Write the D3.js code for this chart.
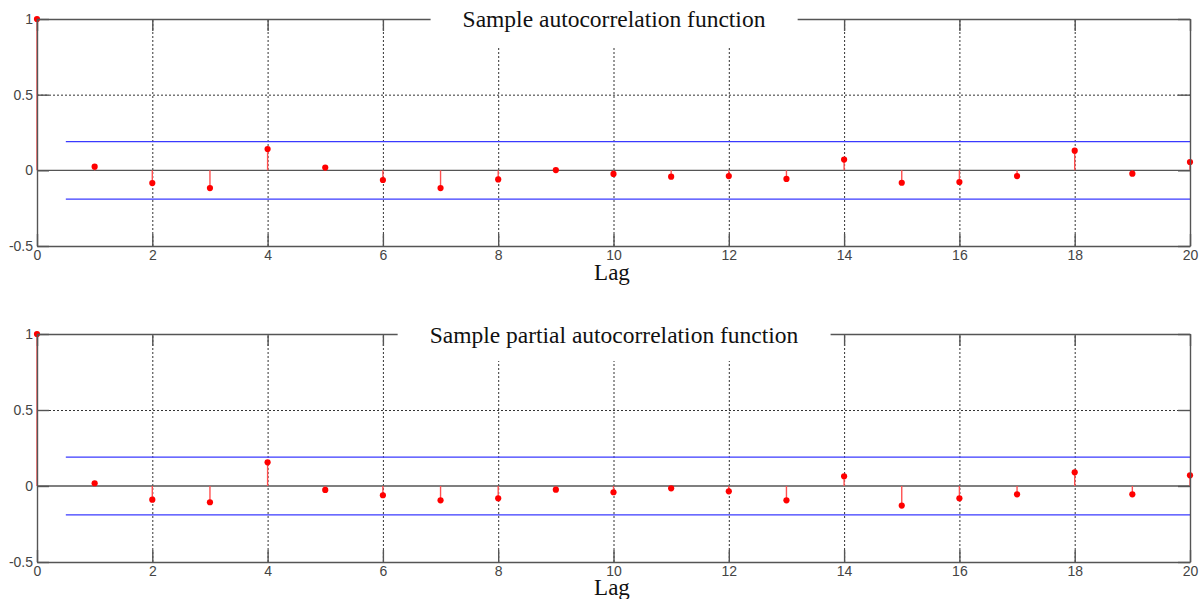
<!DOCTYPE html>
<html>
<head>
<meta charset="utf-8">
<script src="https://cdn.jsdelivr.net/npm/d3@7"></script>
<style>
  body { margin: 0; background: #fff; }
  .tick text { font-family: "Liberation Sans", Arial, sans-serif; font-size: 14px; fill: #444; }
</style>
</head>
<body>
<svg id="chart" width="1200" height="599"></svg>
<script>
// lags and values
const lags = d3.range(0, 21);
const acfValues = [1, 0.024, -0.084, -0.117, 0.141, 0.018, -0.064, -0.117, -0.06, 0.002,
  -0.024, -0.042, -0.038, -0.057, 0.071, -0.082, -0.077, -0.038, 0.13, -0.022, 0.055];
const pacfValues = [1, 0.018, -0.09, -0.107, 0.156, -0.026, -0.061, -0.094, -0.081, -0.024,
  -0.041, -0.015, -0.035, -0.094, 0.064, -0.129, -0.081, -0.055, 0.09, -0.055, 0.07];
const bound = 0.19;          // confidence bounds (+/-)
const xTicks = [0, 2, 4, 6, 8, 10, 12, 14, 16, 18, 20];
const yTicks = [-0.5, 0, 0.5, 1];

const svg = d3.select("#chart");

const x = d3.scaleLinear().domain([0, 20]).range([37, 1190]);

function drawPanel(values, title, top, bottom, titleY, lagY) {
  const y = d3.scaleLinear().domain([-0.5, 1]).range([bottom, top]);
  const g = svg.append("g");
  const h = bottom - top;

  // dotted grid
  g.append("g")
    .attr("transform", `translate(0,${bottom})`)
    .call(d3.axisBottom(x).tickValues(xTicks.slice(1, -1)).tickSize(-h).tickFormat(""))
    .call(s => s.select(".domain").remove())
    .selectAll("line").attr("stroke", "#333").attr("stroke-dasharray", "2,2");
  g.append("g")
    .attr("transform", `translate(37,0)`)
    .call(d3.axisLeft(y).tickValues([0.5]).tickSize(-(1190 - 37)).tickFormat(""))
    .call(s => s.select(".domain").remove())
    .selectAll("line").attr("stroke", "#333").attr("stroke-dasharray", "2,2");

  // zero line
  g.append("line")
    .attr("x1", x(0)).attr("x2", x(20))
    .attr("y1", y(0)).attr("y2", y(0))
    .attr("stroke", "#555").attr("stroke-width", 1.3);

  // confidence bounds
  [bound, -bound].forEach(b => {
    g.append("line")
      .attr("x1", x(0.5)).attr("x2", x(20))
      .attr("y1", y(b)).attr("y2", y(b))
      .attr("stroke", "#3a3aff").attr("stroke-width", 1.2);
  });

  // stems
  g.selectAll(".stem").data(values).enter().append("line")
    .attr("x1", (d, i) => x(lags[i])).attr("x2", (d, i) => x(lags[i]))
    .attr("y1", y(0)).attr("y2", d => y(d))
    .attr("stroke", "#ff5050").attr("stroke-width", 1.4);
  g.selectAll(".pt").data(values).enter().append("circle")
    .attr("cx", (d, i) => x(lags[i])).attr("cy", d => y(d))
    .attr("r", 3.1).attr("fill", "#ff0000");

  // axes box with inner ticks
  const ax = g.append("g").attr("class", "axes");
  ax.append("g").attr("transform", `translate(0,${bottom})`)
    .call(d3.axisBottom(x).tickValues(xTicks).tickSizeInner(-12).tickSizeOuter(0).tickPadding(4));
  ax.append("g").attr("transform", `translate(0,${top})`)
    .call(d3.axisTop(x).tickValues(xTicks).tickSizeInner(-12).tickSizeOuter(0).tickFormat(""));
  ax.append("g").attr("transform", `translate(37,0)`)
    .call(d3.axisLeft(y).tickValues(yTicks).tickSizeInner(-12).tickSizeOuter(0).tickPadding(4)
      .tickFormat(d => d === 0.5 ? "0.5" : d === -0.5 ? "-0.5" : d3.format("d")(d)));
  ax.append("g").attr("transform", `translate(1190,0)`)
    .call(d3.axisRight(y).tickValues(yTicks).tickSizeInner(-12).tickSizeOuter(0).tickFormat(""));
  ax.selectAll(".domain, line").attr("stroke", "#555").attr("stroke-width", 1.4);

  // title over the top edge
  const t = g.append("text")
    .attr("x", 614).attr("y", titleY)
    .attr("text-anchor", "middle")
    .attr("font-family", "'Liberation Serif', 'Times New Roman', serif")
    .attr("font-size", 23.5).attr("fill", "#111")
    .text(title);
  const bb = t.node().getBBox();
  g.insert("rect", () => t.node())
    .attr("x", bb.x - 32).attr("y", top - 19)
    .attr("width", bb.width + 64).attr("height", 46)
    .attr("fill", "#fff");

  g.append("text")
    .attr("x", 612).attr("y", lagY)
    .attr("text-anchor", "middle")
    .attr("font-family", "'Liberation Serif', 'Times New Roman', serif")
    .attr("font-size", 23).attr("fill", "#111")
    .text("Lag");
}

drawPanel(acfValues, "Sample autocorrelation function", 19, 246, 27, 280);
drawPanel(pacfValues, "Sample partial autocorrelation function", 334, 562, 343, 595);
</script>
</body>
</html>
